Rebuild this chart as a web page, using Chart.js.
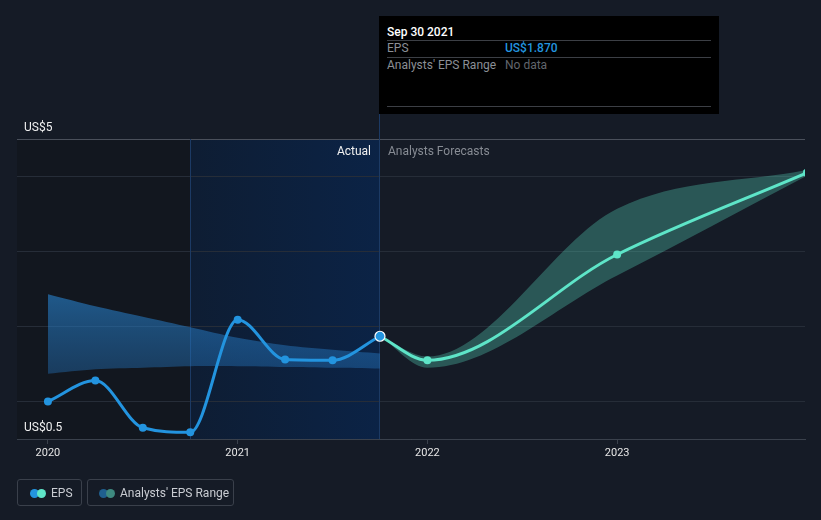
<!DOCTYPE html>
<html>
<head>
<meta charset="utf-8">
<script src="https://cdn.jsdelivr.net/npm/chart.js@4"></script>
<style>
  body { margin: 0; background: #151b26; font-family: Roboto, "Open Sans", sans-serif; }
  #wrap { position: relative; width: 821px; height: 520px; }
  #tip { position: absolute; left: 379px; top: 16px; width: 340px; height: 98px; background: #000; }
  #tip .t { position: absolute; left: 8px; top: 9px; color: #fff; font-size: 12px; font-weight: 500; }
  #tip .ln { position: absolute; left: 8px; right: 8px; height: 1px; background: #3c3f45; }
  #tip .k { position: absolute; left: 8px; color: #8b8f96; font-size: 12px; }
  #tip .v { position: absolute; left: 126px; font-size: 12px; }
  .leg { position: absolute; top: 479px; height: 27px; border: 1px solid #3a404b; border-radius: 3px; color: #c9ccd2; font-size: 12px; line-height: 27px; box-sizing: border-box; }
  .dot { position: absolute; top: 9px; width: 9px; height: 9px; border-radius: 50%; }
</style>
</head>
<body>
<div id="wrap">
  <canvas id="epsChart" width="821" height="520"></canvas>
  <div id="tip">
    <div class="t">Sep 30 2021</div>
    <div class="ln" style="top:24px"></div>
    <div class="k" style="top:25px">EPS</div>
    <div class="v" style="top:25px;color:#2394df;font-weight:500">US$1.870</div>
    <div class="ln" style="top:41px"></div>
    <div class="k" style="top:42px">Analysts' EPS Range</div>
    <div class="v" style="top:42px;color:#62666d">No data</div>
    <div class="ln" style="top:90px"></div>
  </div>
  <div class="leg" style="left:17px;width:65px">
    <span class="dot" style="left:12px;background:#2394df"></span>
    <span class="dot" style="left:19px;background:#5ee5c8"></span>
    <span style="position:absolute;left:33px">EPS</span>
  </div>
  <div class="leg" style="left:87px;width:147px">
    <span class="dot" style="left:11px;background:#1f5f8f"></span>
    <span class="dot" style="left:18px;background:#3e8a80"></span>
    <span style="position:absolute;left:32px">Analysts' EPS Range</span>
  </div>
</div>
<script>
// dates as decimal years, values in US$
const epsDates = [2020.0, 2020.25, 2020.5, 2020.75, 2021.0, 2021.25, 2021.5, 2021.75];
const epsValues = [1.0, 1.28, 0.65, 0.59, 2.09, 1.56, 1.55, 1.87];

const forecastDates = [2021.75, 2022.0, 2023.0, 2024.0];
const forecastValues = [1.87, 1.55, 2.96, 4.05];
const forecastLow = [1.87, 1.45, 2.68, 4.01];
const forecastHigh = [1.87, 1.60, 3.57, 4.09];

const pastRangeDates = [2020.0, 2020.25, 2020.5, 2020.75, 2021.0, 2021.25, 2021.5, 2021.75];
const pastRangeLow = [1.37, 1.43, 1.45, 1.47, 1.47, 1.46, 1.45, 1.44];
const pastRangeHigh = [2.43, 2.27, 2.13, 1.99, 1.85, 1.75, 1.69, 1.64];

const yearTicks = [2020, 2021, 2022, 2023];
const yGridTicks = [0.5, 1, 2, 3, 4, 4.5];
const yLabels = ['US$5', 'US$0.5'];

const actualEnd = 2021.75;
const shadeStart = 2020.75;

function pts(xs, ys) {
  return xs.map((x, i) => ({ x: x, y: ys[i] }));
}

const backdrop = {
  id: 'backdrop',
  beforeDraw(chart) {
    const { ctx, chartArea: a, scales } = chart;
    const xs = scales.x.getPixelForValue(shadeStart);
    const xe = scales.x.getPixelForValue(actualEnd);
    ctx.save();
    ctx.fillStyle = '#12171f';
    ctx.fillRect(a.left, a.top, xs - a.left, a.bottom - a.top);
    const g = ctx.createLinearGradient(xs, 0, xe, 0);
    g.addColorStop(0, '#0e1d33');
    g.addColorStop(1, '#0b2346');
    ctx.fillStyle = g;
    ctx.fillRect(xs, a.top, xe - xs, a.bottom - a.top);
    ctx.restore();
  },
  beforeDatasetsDraw(chart) {
    const { ctx, chartArea: a, scales } = chart;
    const xs = scales.x.getPixelForValue(shadeStart);
    const xe = scales.x.getPixelForValue(actualEnd);
    ctx.save();
    ctx.strokeStyle = '#1c3a64';
    ctx.lineWidth = 1;
    ctx.beginPath();
    ctx.moveTo(Math.round(xs) + 0.5, a.top);
    ctx.lineTo(Math.round(xs) + 0.5, a.bottom);
    ctx.moveTo(Math.round(xe) - 0.5, 114);
    ctx.lineTo(Math.round(xe) - 0.5, a.bottom);
    ctx.stroke();
    ctx.font = '12px Roboto, "Open Sans", sans-serif';
    ctx.textBaseline = 'middle';
    ctx.fillStyle = '#f0f0f0';
    ctx.textAlign = 'left';
    ctx.fillText(yLabels[0], a.left + 7, a.top - 11);
    ctx.fillText(yLabels[1], a.left + 7, a.bottom - 11);
    ctx.textAlign = 'right';
    ctx.fillText('Actual', xe - 9, a.top + 13);
    ctx.textAlign = 'left';
    ctx.fillStyle = '#878c94';
    ctx.fillText('Analysts Forecasts', xe + 8, a.top + 13);
    ctx.restore();
  }
};

function pastGradient(context) {
  const { ctx, chartArea } = context.chart;
  if (!chartArea) return 'rgba(35,120,190,0.5)';
  const y = context.chart.scales.y;
  const g = ctx.createLinearGradient(0, y.getPixelForValue(2.45), 0, y.getPixelForValue(1.35));
  g.addColorStop(0, 'rgba(40,130,205,0.62)');
  g.addColorStop(1, 'rgba(35,110,180,0.42)');
  return g;
}

const ctx = document.getElementById('epsChart').getContext('2d');
const epsChart = new Chart(ctx, {
  type: 'line',
  data: {
    datasets: [{
      label: 'EPS',
      data: pts(epsDates, epsValues),
      borderColor: '#2394df',
      backgroundColor: '#2394df',
      borderWidth: 3,
      pointRadius: epsDates.map((d) => d === actualEnd ? 5 : 4),
      pointBackgroundColor: '#2394df',
      pointBorderWidth: epsDates.map((d) => d === actualEnd ? 1.2 : 0),
      pointBorderColor: epsDates.map((d) => d === actualEnd ? '#ffffff' : '#2394df'),
      cubicInterpolationMode: 'monotone',
      fill: false,
      clip: 6,
      order: 0
    }, {
      label: 'EPS forecast',
      data: pts(forecastDates, forecastValues),
      borderColor: '#5ee5c8',
      backgroundColor: '#5ee5c8',
      borderWidth: 3,
      pointRadius: forecastDates.map((d) => d === actualEnd ? 0 : 4),
      pointBorderWidth: 0,
      cubicInterpolationMode: 'monotone',
      fill: false,
      order: 1
    }, {
      label: 'Range high',
      data: pts(forecastDates, forecastHigh),
      borderWidth: 0,
      pointRadius: 0,
      cubicInterpolationMode: 'monotone',
      backgroundColor: 'rgba(94,229,200,0.3)',
      fill: '+1',
      order: 2
    }, {
      label: 'Range low',
      data: pts(forecastDates, forecastLow),
      borderWidth: 0,
      pointRadius: 0,
      cubicInterpolationMode: 'monotone',
      fill: false,
      order: 3
    }, {
      label: 'Past high',
      data: pts(pastRangeDates, pastRangeHigh),
      borderWidth: 0,
      pointRadius: 0,
      tension: 0.3,
      backgroundColor: pastGradient,
      fill: '+1',
      order: 4
    }, {
      label: 'Past low',
      data: pts(pastRangeDates, pastRangeLow),
      borderWidth: 0,
      pointRadius: 0,
      tension: 0.3,
      fill: false,
      order: 5
    }]
  },
  options: {
    responsive: false,
    animation: false,
    layout: { padding: { left: 17, right: 16, top: 139, bottom: 56 } },
    plugins: { legend: { display: false }, tooltip: { enabled: false } },
    scales: {
      x: {
        type: 'linear',
        min: 2019.837,
        max: 2023.99,
        afterBuildTicks: (s) => { s.ticks = yearTicks.map((v) => ({ value: v })); },
        afterFit: (s) => { s.height = 25; },
        ticks: {
          color: '#e6e6e6',
          font: { family: 'Roboto, "Open Sans", sans-serif', size: 11 },
          padding: 3,
          maxRotation: 0,
          callback: (v) => String(v)
        },
        grid: { drawOnChartArea: false, color: '#3a414c', tickLength: 5 },
        border: { color: '#3a414c' }
      },
      y: {
        min: 0.5,
        max: 4.5,
        afterBuildTicks: (s) => { s.ticks = yGridTicks.map((v) => ({ value: v })); },
        afterFit: (s) => { s.width = 0; },
        ticks: { display: false },
        grid: {
          drawTicks: false,
          color: (c) => (c.tick && (c.tick.value === 0.5 || c.tick.value === 4.5)) ? '#4a505b' : '#262d38'
        },
        border: { display: false }
      }
    }
  },
  plugins: [backdrop]
});
</script>
</body>
</html>
